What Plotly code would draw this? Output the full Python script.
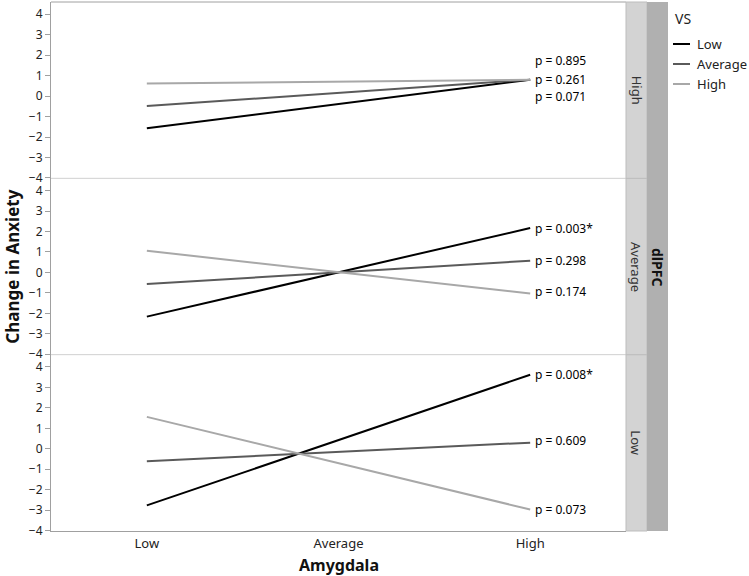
import plotly.graph_objects as go
from plotly.subplots import make_subplots

# ---- data ----
amygdala_levels = ["Low", "Average", "High"]
vs_levels = ["Low", "Average", "High"]
dlpfc_panels = ["High", "Average", "Low"]  # top to bottom

# change in anxiety at Amygdala Low and High, per dlPFC panel, per VS level
dl_high_vs_low = [-1.57, 0.80]
dl_high_vs_avg = [-0.49, 0.80]
dl_high_vs_high = [0.61, 0.80]

dl_avg_vs_low = [-2.16, 2.17]
dl_avg_vs_avg = [-0.57, 0.57]
dl_avg_vs_high = [1.06, -1.03]

dl_low_vs_low = [-2.77, 3.62]
dl_low_vs_avg = [-0.61, 0.30]
dl_low_vs_high = [1.56, -2.97]

p_high = ["p = 0.071", "p = 0.261", "p = 0.895"]
p_avg = ["p = 0.003*", "p = 0.298", "p = 0.174"]
p_low = ["p = 0.008*", "p = 0.609", "p = 0.073"]

y_ticks = [-4, -3, -2, -1, 0, 1, 2, 3, 4]

# ---- styling ----
FONT = "Noto Sans"
vs_colors = ["#000000", "#5a5a5a", "#a8a8a8"]
panel_series = [
    [dl_high_vs_low, dl_high_vs_avg, dl_high_vs_high],
    [dl_avg_vs_low, dl_avg_vs_avg, dl_avg_vs_high],
    [dl_low_vs_low, dl_low_vs_avg, dl_low_vs_high],
]
panel_pvals = [p_high, p_avg, p_low]
label_offsets = [[-0.8, 0.0, 0.92], [0.0, 0.0, 0.1], [0.0, 0.1, 0.0]]

fig = make_subplots(rows=3, cols=1, shared_xaxes=True, vertical_spacing=0)

XD = 575 / 617.0
for r, series in enumerate(panel_series, start=1):
    for i, vals in enumerate(series):
        fig.add_trace(
            go.Scatter(
                x=[amygdala_levels[0], amygdala_levels[2]],
                y=vals,
                mode="lines",
                line=dict(color=vs_colors[i], width=2),
                name=vs_levels[i],
                showlegend=False,
                hoverinfo="skip",
            ),
            row=r, col=1,
        )
        fig.add_annotation(
            x=amygdala_levels[2], y=vals[1] + label_offsets[r - 1][i],
            xref=f"x{'' if r == 1 else r}", yref=f"y{'' if r == 1 else r}",
            text=panel_pvals[r - 1][i], showarrow=False,
            xanchor="left", yanchor="middle", xshift=3,
            font=dict(family=FONT, size=12, color="#000"),
        )
    fig.update_yaxes(
        row=r, col=1, range=[-4.02, 4.6], tickvals=y_ticks,
        showgrid=False, zeroline=False, showline=True, linecolor="#a0a0a0",
        ticks="outside", ticklen=5, tickcolor="#a0a0a0",
        tickfont=dict(family=FONT, size=12, color="#222"),
    )
    fig.update_xaxes(
        row=r, col=1, domain=[0, XD], range=[-0.5, 2.5],
        categoryorder="array", categoryarray=amygdala_levels,
        showgrid=False, zeroline=False, showline=(r == 3), linecolor="#a0a0a0",
        ticks="", tickfont=dict(family=FONT, size=13, color="#222"),
    )

fig.update_xaxes(type="category")

shapes = []
shapes.append(dict(type="line", xref="paper", yref="paper", x0=0, x1=XD, y0=1, y1=1,
                   line=dict(color="#a0a0a0", width=1)))
for yy in [1 / 3, 2 / 3]:
    shapes.append(dict(type="line", xref="paper", yref="paper", x0=0, x1=XD, y0=yy, y1=yy,
                       line=dict(color="#d0d0d0", width=1)))
S1 = (647 - 51) / 617.0
for k in range(3):
    shapes.append(dict(type="rect", xref="paper", yref="paper", x0=XD, x1=S1,
                       y0=k / 3, y1=(k + 1) / 3, fillcolor="#d3d3d3",
                       line=dict(color="#bdbdbd", width=1), layer="above"))
shapes.append(dict(type="rect", xref="paper", yref="paper", x0=S1, x1=1.0, y0=0, y1=1,
                   fillcolor="#b0b0b0", line=dict(width=0), layer="above"))

annotations = list(fig.layout.annotations)
for k, lab in enumerate(dlpfc_panels):
    annotations.append(dict(x=(XD + S1) / 2, y=1 - (k + 0.5) / 3, xref="paper", yref="paper",
                            text=lab, textangle=90, showarrow=False,
                            xanchor="center", yanchor="middle",
                            font=dict(family=FONT, size=13, color="#333")))
annotations.append(dict(x=(S1 + 1) / 2, y=0.5, xref="paper", yref="paper",
                        text="<b>dlPFC</b>", textangle=90, showarrow=False,
                        xanchor="center", yanchor="middle",
                        font=dict(family=FONT, size=14, color="#111")))
annotations.append(dict(x=-0.063, y=0.5, xref="paper", yref="paper",
                        text="<b>Change in Anxiety</b>", textangle=-90, showarrow=False,
                        xanchor="center", yanchor="middle",
                        font=dict(family=FONT, size=17, color="#111")))
annotations.append(dict(x=XD / 2, y=-(565 - 531) / 529.0, xref="paper", yref="paper",
                        text="<b>Amygdala</b>", showarrow=False,
                        xanchor="center", yanchor="middle",
                        font=dict(family=FONT, size=16, color="#111")))
LX0 = (673 - 51) / 617.0
LX1 = (690 - 51) / 617.0
LXT = (695 - 51) / 617.0
annotations.append(dict(x=LX0, y=1 - (19 - 2) / 529.0, xref="paper", yref="paper",
                        text="VS", showarrow=False, xanchor="left", yanchor="middle",
                        font=dict(family=FONT, size=14, color="#222")))
for i, lab in enumerate(vs_levels):
    ly = 1 - (44 + 20 * i - 2) / 529.0
    shapes.append(dict(type="line", xref="paper", yref="paper", x0=LX0, x1=LX1, y0=ly, y1=ly,
                       line=dict(color=vs_colors[i], width=2)))
    annotations.append(dict(x=LXT, y=ly, xref="paper", yref="paper", text=lab,
                            showarrow=False, xanchor="left", yanchor="middle",
                            font=dict(family=FONT, size=13, color="#222")))

fig.update_layout(
    width=749, height=576,
    margin=dict(l=51, r=81, t=2, b=45),
    plot_bgcolor="white", paper_bgcolor="white",
    shapes=shapes, annotations=annotations,
    showlegend=False,
)

fig.write_html("out.html", config={"displayModeBar": False},
               post_script="document.body.style.margin='0';")
